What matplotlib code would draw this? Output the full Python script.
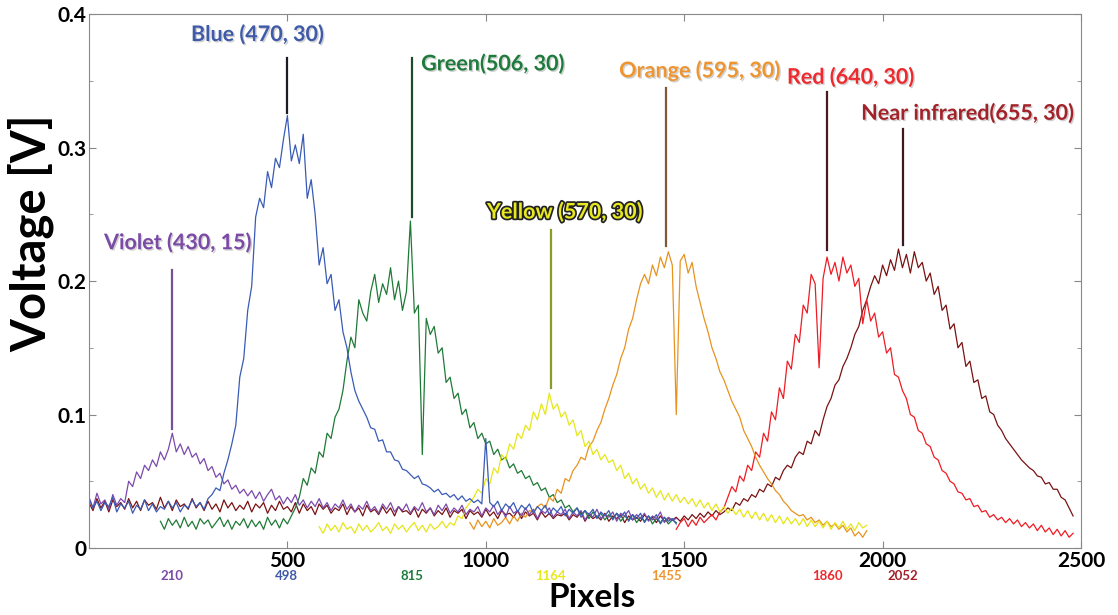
import numpy as np
import matplotlib
matplotlib.use('Agg')
import matplotlib.pyplot as plt
import matplotlib.patheffects as pe
from matplotlib.ticker import MultipleLocator

plt.rcParams['font.family'] = ['Lato', 'DejaVu Sans']

STEP = 10  # spacing of the sampled points, in pixels

# sampled spectra in mV; each list starts at the given pixel
violet_start = 0
violet_mv = [38, 30, 41, 33, 36, 29, 40, 32, 37, 34,
             50, 46, 57, 52, 62, 58, 66, 61, 72, 66, 74, 86, 72, 78, 70, 76, 68, 71, 63, 67, 58, 61, 53, 56, 48, 51,
             44, 47, 41, 44, 39,
             43, 37, 42, 35, 40, 44, 36, 39, 33, 38, 34, 40, 32, 36, 30, 35, 31, 37, 30,
             34, 28, 33, 30, 36, 29, 33, 27, 32, 29, 35, 28, 31, 26, 33, 29, 34, 27, 31, 28,
             33, 26, 31, 28, 34, 27, 30, 25, 32, 28, 33, 26, 30, 27, 32, 25, 29, 27, 31, 24,
             30, 27, 32, 25, 29, 23, 31, 26, 28, 24, 30, 25, 29, 22, 28, 26, 30, 23, 27, 25,
             29, 22, 27, 24, 28, 21, 26, 23, 29, 22, 25, 23, 27, 20, 26, 24, 28, 21, 25, 22,
             26, 20, 24, 22, 27, 19, 23, 21, 22]

blue_start = 0
blue_mv = [37, 30, 35, 28, 34, 31, 38, 27, 33, 30, 35, 26, 32, 29, 36, 28, 33, 27, 31, 29, 35, 30, 34, 27, 32, 30,
           36, 31, 34, 29, 37,
           40, 45, 43, 56, 66, 78, 92, 128, 142, 178, 196, 248, 262, 255, 282, 270, 292, 285, 306, 324, 290, 302,
           288, 310, 262, 276, 250, 212, 225,
           198, 205, 178, 186, 162, 150, 132, 118, 110, 104, 98, 90, 89, 80, 81, 72, 72, 66, 65, 59,
           58, 55, 52, 54, 48, 47, 45, 42, 44, 40, 41, 38, 40, 36, 39, 35, 37, 34, 36, 33,
           82, 34,
           31, 35, 28, 33, 30, 34, 27, 32, 29, 33, 26, 31, 28, 32, 25, 30, 27, 31, 24, 29, 26, 30, 23, 28, 25, 29,
           22, 27, 24, 28, 21, 26, 23, 27, 20, 25, 22, 26, 19, 24, 21, 25, 18, 23, 20, 22, 18]

green_start = 180
green_mv = [20, 14, 22, 17, 21, 15, 23, 16, 20, 14, 22, 18, 21, 15, 19, 23, 16, 21, 14, 20, 17, 22, 15, 21, 16, 20,
            14, 23, 17, 21, 15, 22, 18, 24,
            30, 38, 52, 47, 60, 56, 72, 68, 86, 82, 98, 104, 118, 140, 158, 150, 186, 176, 170, 192, 205, 184, 198,
            190, 210, 186, 200, 178, 192, 245, 176, 182,
            70, 172, 160, 166, 146, 150, 124, 128, 112, 116, 100, 104, 90, 94, 82, 86, 78, 80, 70, 74, 66, 68, 60,
            63, 56, 58, 52, 54, 47, 49, 43, 45, 38, 40, 34, 36, 30, 32, 27, 30, 25, 28, 22, 27, 23, 26, 21, 25, 22,
            26, 20, 24, 21, 25, 19, 23, 20, 24, 18, 22, 19, 23, 18, 21, 19]

yellow_start = 580
yellow_mv = [16, 11, 18, 13, 17, 12, 19, 14, 16, 11, 18, 13, 17, 12, 15, 19, 13, 16, 11, 18, 14, 17, 12, 16, 19,
             13, 17, 12, 18, 14, 16, 20, 15, 19, 17, 24, 22, 30, 34,
             38, 44, 41, 52, 48, 60, 56, 70, 66, 78, 74, 86, 82, 92, 88, 102, 96, 108, 100, 116, 104, 108, 98, 102,
             92, 96, 84, 88, 76, 80, 70, 74, 66, 70, 64, 66, 58, 62, 52, 56, 48, 52, 44, 48, 41, 45, 38, 43, 36, 41,
             35, 40, 34, 38, 33, 37, 31, 36, 30, 34, 28, 33, 27, 31, 26, 30, 25, 29, 23, 28, 22, 27, 21, 26, 20, 25,
             19, 24, 18, 23, 18, 22, 17, 22, 16, 21, 16, 20, 15, 20, 14, 19, 15, 20, 14, 18, 13, 19, 15, 17]

orange_start = 960
orange_mv = [19, 14, 21, 16, 20, 15, 22, 17, 19, 23, 18, 24, 20, 26, 23, 28, 27, 31,
             33, 30, 38, 35, 44, 41, 52, 50, 58, 62, 68, 66, 76, 80, 88, 94, 104, 112, 122, 130, 142, 150, 164, 172,
             186, 198, 205, 198, 212, 204, 218, 210, 222, 212, 100,
             215, 220, 206, 214, 196, 184, 172, 162, 150, 142, 132, 126, 118, 110, 104, 98, 88, 82, 76, 68, 62, 57,
             52, 48, 43, 40, 35, 32, 28, 26, 24, 25, 21, 23, 19, 21, 17, 20, 16, 18, 14, 17, 12, 15, 9, 12, 8, 13]

red_start = 1480
red_mv = [14, 19, 22, 16, 21, 17, 23, 19, 22, 25, 21, 27, 30,
          38, 46, 42, 54, 50, 62, 58, 72, 68, 86, 80, 102, 96, 120, 112, 140, 134, 160, 154, 182, 176, 205, 198,
          135, 202,
          218, 205, 214, 200, 218, 206, 212, 196, 202, 168, 186, 170, 176, 158, 162, 146, 150, 130, 128, 118, 112,
          100, 98, 88, 86, 78, 76, 68, 66, 58, 56, 50, 48, 42, 41, 36, 37, 31, 32, 27, 28, 23, 25, 21, 23, 19, 22,
          18, 21, 16, 19, 15, 18, 13, 17, 12, 15, 10, 14, 9, 13, 8, 11]

nir_start = 0
nir_mv = [34, 28, 37, 30, 35, 27, 36, 31, 34, 29, 37, 30, 35, 28, 36, 32, 34, 29, 38, 30, 35, 28, 36, 31, 33, 29,
          37, 30, 34, 28,
          35, 29, 33, 27, 36, 30, 34, 28, 32, 29, 35, 27, 33, 30, 34, 26, 32, 28, 35, 29, 31, 27, 34, 26, 33, 28,
          31, 25, 33, 29,
          32, 26, 30, 28, 33, 25, 31, 27, 30, 24, 32, 27, 29, 25, 31, 26, 30, 24, 31, 27, 28, 25, 30, 23, 29, 26,
          30, 24, 28, 25,
          30, 23, 28, 26, 29, 22, 28, 25, 27, 23, 29, 24, 27, 22, 28, 25, 26, 23, 28, 22, 27, 24, 26, 21, 27, 23,
          26, 22, 25, 24,
          26, 21, 25, 23, 27, 20, 25, 22, 24, 21, 26, 20, 24, 22, 25, 19, 24, 21, 23, 20, 25, 21, 23, 19, 24, 20,
          22, 21, 23,
          20, 24, 21, 25, 22, 26, 23, 27, 24, 28, 25, 27,
          30, 28, 34, 32, 37, 35, 40, 38, 44, 42, 48, 46, 53, 51, 58, 62, 60, 68, 72, 70, 80, 78, 88, 84, 96,
          106, 112, 122, 126, 136, 142, 150, 160, 166, 178, 186, 196, 204, 198, 212, 204, 216, 208, 224, 210, 220,
          206, 222, 210,
          214, 200, 206, 190, 196, 178, 182, 164, 168, 150, 154, 136, 140, 124, 126, 112, 114, 102, 100, 92, 88, 82,
          78, 74, 70, 66, 63, 60, 58, 54, 53, 48, 49, 44, 44, 38, 36, 30, 24]

# peak markers
peak_names = ['Violet (430, 15)', 'Blue (470, 30)', 'Green(506, 30)', 'Yellow (570, 30)',
              'Orange (595, 30)', 'Red (640, 30)', 'Near infrared(655, 30)']
peak_px = [210, 498, 815, 1164, 1455, 1860, 2052]
marker_lo = [0.089, 0.326, 0.248, 0.120, 0.226, 0.223, 0.227]
marker_hi = [0.208, 0.367, 0.367, 0.238, 0.345, 0.342, 0.314]
label_x = [38, 257, 837, 1003, 1336, 1759, 1946]
label_y = [0.229, 0.385, 0.363, 0.252, 0.358, 0.353, 0.326]

text_colors = ['#7b4aa6', '#3f5aa8', '#1e7b3c', '#e8e820', '#ee9530', '#ee2a2e', '#a3222a']
marker_colors = ['#7a4f9a', '#1c1c24', '#1f4a2c', '#8c9a2c', '#7a5a3a', '#4a1a20', '#3a1a1e']

fig = plt.figure(figsize=(11.18, 6.15), dpi=100)
ax = fig.add_axes([0.0796, 0.109, 0.8873, 0.868])

series = [
    (nir_start, nir_mv, '#7a1212'),
    (red_start, red_mv, '#ee1c24'),
    (green_start, green_mv, '#1f7a37'),
    (orange_start, orange_mv, '#e8931e'),
    (yellow_start, yellow_mv, '#e6e61a'),
    (violet_start, violet_mv, '#7b4aae'),
    (blue_start, blue_mv, '#3a5bb5'),
]
for start, vals, col in series:
    xs = start + STEP * np.arange(len(vals))
    ax.plot(xs, np.array(vals) / 1000.0, color=col, lw=0.9)

shadow = [pe.withSimplePatchShadow(offset=(1, -1), shadow_rgbFace='#777777', alpha=0.35)]
for i in range(len(peak_px)):
    ax.plot([peak_px[i], peak_px[i]], [marker_lo[i], marker_hi[i]],
            color=marker_colors[i], lw=1.6)
    t = ax.text(label_x[i], label_y[i], peak_names[i], color=text_colors[i],
                fontsize=15.5, fontweight='bold', ha='left', va='center')
    if i == 3:
        t.set_path_effects([pe.withStroke(linewidth=2.5, foreground='#222222')])
    else:
        t.set_path_effects(shadow)
    # coloured pixel number under the axis
    ax.text(peak_px[i], -0.0168, str(peak_px[i]), color=text_colors[i],
            fontsize=9.5, fontweight='bold', ha='center', va='top', clip_on=False)

ax.set_xlim(0, 2500)
ax.set_ylim(0, 0.4)
ax.set_xticks([500, 1000, 1500, 2000, 2500])
ax.set_yticks([0, 0.1, 0.2, 0.3, 0.4])
ax.set_yticklabels(['0', '0.1', '0.2', '0.3', '0.4'])
ax.yaxis.set_minor_locator(MultipleLocator(0.05))
ax.tick_params(which='both', direction='in', top=True, right=True, color='#888888')
ax.tick_params(which='major', length=5, labelsize=15, pad=2)
ax.tick_params(which='minor', length=3)
for lab in ax.get_xticklabels() + ax.get_yticklabels():
    lab.set_fontweight('bold')
for s in ax.spines.values():
    s.set_color('#888888')

ax.set_xlabel('Pixels', fontsize=24, fontweight='bold')
ax.xaxis.set_label_coords(0.507, -0.111)
ax.xaxis.label.set_va('baseline')
ax.set_ylabel('Voltage [V]', fontsize=34, fontweight='bold')
ax.yaxis.set_label_coords(-0.058, 0.59)
ax.yaxis.label.set_va('center')

fig.savefig('out.png', dpi=100)
